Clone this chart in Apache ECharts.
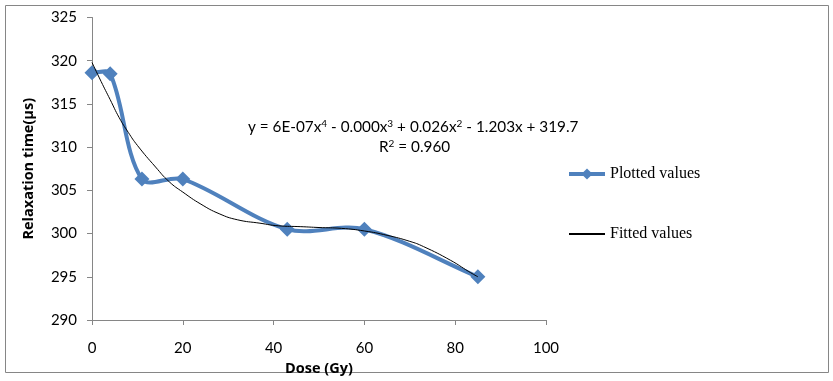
<!DOCTYPE html>
<html>
<head>
<meta charset="utf-8">
<script src="https://cdn.jsdelivr.net/npm/echarts@6/dist/echarts.min.js"></script>
<style>
  body { margin: 0; background: #fff; }
  #main { width: 833px; height: 381px; }
</style>
</head>
<body>
<div id="main"></div>
<script>
// measured values
var doseValues = [0, 4, 11, 20, 43, 60, 85];
var plottedValues = [318.6, 318.5, 306.3, 306.3, 300.5, 300.5, 295.0];

// fitted curve
var fitDose = [0, 2, 4, 6, 8, 10, 14, 17, 20, 24, 28, 32, 37, 41, 46, 50, 55, 60, 65, 70, 73, 79, 83, 85];
var fitValues = [319.8, 317.6, 315.5, 313.4, 311.7, 310.2, 307.7, 306.0, 304.8, 303.4, 302.3, 301.6,
    301.2, 300.9, 300.8, 300.7, 300.6, 300.3, 299.8, 299.1, 298.5, 296.9, 295.6, 295.0];

var yTicks = { min: 290, max: 325, interval: 5 };
var xTicks = { min: 0, max: 100, interval: 20 };

var blue = '#4F81BD';

function pairs(xs, ys) {
    return xs.map(function (x, i) { return [x, ys[i]]; });
}

function dist(a, b) {
    return Math.sqrt((a[0] - b[0]) * (a[0] - b[0]) + (a[1] - b[1]) * (a[1] - b[1]));
}

// excel style smoothed segment, tangents scaled by segment lengths (pixel space)
function renderSegment(params, api) {
    var i = params.dataIndex;
    var n = doseValues.length;
    if (i >= n - 1) return;
    var pt = function (k) {
        k = Math.max(0, Math.min(n - 1, k));
        return api.coord([doseValues[k], plottedValues[k]]);
    };
    var p0 = pt(i - 1), p1 = pt(i), p2 = pt(i + 1), p3 = pt(i + 2);
    var d01 = dist(p0, p1), d12 = dist(p1, p2), d23 = dist(p2, p3);
    var k1 = d12 / ((d01 + d12) || 1) / 3;
    var k2 = d12 / ((d12 + d23) || 1) / 3;
    return {
        type: 'bezierCurve',
        shape: {
            x1: p1[0], y1: p1[1],
            x2: p2[0], y2: p2[1],
            cpx1: p1[0] + (p2[0] - p0[0]) * k1,
            cpy1: p1[1] + (p2[1] - p0[1]) * k1,
            cpx2: p2[0] - (p3[0] - p1[0]) * k2,
            cpy2: p2[1] - (p3[1] - p1[1]) * k2
        },
        style: { fill: 'none', stroke: blue, lineWidth: 4, lineCap: 'round' }
    };
}

var myChart = echarts.init(document.getElementById('main'));

var option = {
    animation: false,
    grid: {
        left: 92,
        right: 287,
        top: 17.5,
        bottom: 61
    },
    legend: {
        orient: 'vertical',
        left: 562,
        top: 161,
        itemGap: 44,
        itemWidth: 36,
        itemHeight: 14,
        textStyle: {
            fontFamily: 'Liberation Serif',
            fontSize: 16,
            color: '#000',
            padding: [0, 0, 0, 0]
        },
        data: [
            { name: 'Plotted values', lineStyle: { opacity: 1, width: 4, color: blue } },
            { name: 'Fitted values', itemStyle: { opacity: 0 } }
        ]
    },
    xAxis: {
        type: 'value',
        min: xTicks.min,
        max: xTicks.max,
        interval: xTicks.interval,
        name: 'Dose (Gy)',
        nameLocation: 'middle',
        nameGap: 34,
        nameTextStyle: {
            fontFamily: 'Open Sans',
            fontWeight: 'bold',
            fontSize: 14.5,
            color: '#000'
        },
        splitLine: { show: false },
        axisLine: { lineStyle: { color: '#868686' } },
        axisTick: { show: true, length: 5, lineStyle: { color: '#868686' } },
        axisLabel: {
            margin: 21,
            fontFamily: 'Lato',
            fontSize: 15,
            color: '#000'
        }
    },
    yAxis: {
        type: 'value',
        min: yTicks.min,
        max: yTicks.max,
        interval: yTicks.interval,
        name: 'Relaxation time(\u03bcs)',
        nameLocation: 'middle',
        nameGap: 56,
        nameTextStyle: {
            fontFamily: 'Open Sans',
            fontWeight: 'bold',
            fontSize: 14.5,
            color: '#000'
        },
        splitLine: { show: false },
        axisLine: { show: true, lineStyle: { color: '#868686' } },
        axisTick: { show: true, length: 5, lineStyle: { color: '#868686' } },
        axisLabel: {
            margin: 15,
            fontFamily: 'Lato',
            fontSize: 15,
            color: '#000'
        }
    },
    graphic: [
        {
            type: 'rect',
            shape: { x: 5.5, y: 5.5, width: 823, height: 367 },
            style: { fill: 'none', stroke: '#868686', lineWidth: 1 },
            silent: true
        },
        {
            type: 'text',
            left: 248,
            top: 119,
            style: {
                text: '{t|y = 6E-07x}{s|4}{t| - 0.000x}{s|3}{t| + 0.026x}{s|2}{t| - 1.203x + 319.7}',
                rich: {
                    t: { fontFamily: 'Lato', fontSize: 15.3, fill: '#000' },
                    s: { fontFamily: 'Lato', fontSize: 10, fill: '#000', verticalAlign: 'top', padding: [0, 0, 6, 0] }
                }
            }
        },
        {
            type: 'text',
            left: 379,
            top: 139,
            style: {
                text: '{t|R}{s|2}{t| = 0.960}',
                rich: {
                    t: { fontFamily: 'Lato', fontSize: 15.3, fill: '#000' },
                    s: { fontFamily: 'Lato', fontSize: 10, fill: '#000', verticalAlign: 'top', padding: [0, 0, 6, 0] }
                }
            }
        }
    ],
    series: [
        {
            name: 'Plotted curve',
            type: 'custom',
            renderItem: renderSegment,
            data: pairs(doseValues, plottedValues),
            z: 2
        },
        {
            name: 'Plotted values',
            type: 'line',
            symbol: 'diamond',
            symbolSize: 15,
            data: pairs(doseValues, plottedValues),
            itemStyle: { color: blue },
            lineStyle: { color: blue, width: 4, opacity: 0 },
            z: 3
        },
        {
            name: 'Fitted values',
            type: 'line',
            smooth: true,
            symbol: 'none',
            data: pairs(fitDose, fitValues),
            itemStyle: { color: '#000' },
            lineStyle: { color: '#000', width: 1 },
            z: 4
        }
    ]
};

myChart.setOption(option);
</script>
</body>
</html>
